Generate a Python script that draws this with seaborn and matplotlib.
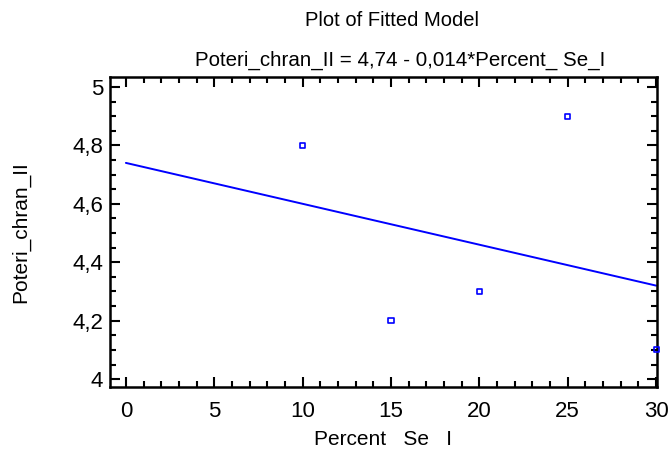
import numpy as np
import pandas as pd
import matplotlib
matplotlib.use("Agg")
import matplotlib.pyplot as plt
import seaborn as sns
from matplotlib.ticker import MultipleLocator, FuncFormatter

percent_se = [10, 15, 20, 25, 30]
poteri = [4.8, 4.2, 4.3, 4.9, 4.1]
title1 = "Plot of Fitted Model"
title2 = "Poteri_chran_II = 4,74 - 0,014*Percent_ Se_I"

sns.set_style("white")
plt.rcParams['font.family'] = ['Liberation Sans Narrow', 'Liberation Sans', 'DejaVu Sans']
plt.rcParams.update({'text.color': 'black', 'axes.labelcolor': 'black',
                     'xtick.color': 'black', 'ytick.color': 'black'})

df = pd.DataFrame({"x": percent_se, "y": poteri})
slope, intercept = np.polyfit(df["x"], df["y"], 1)
xs = np.linspace(0, 30, 200)
fit = pd.DataFrame({"x": xs, "y": intercept + slope * xs})

fig = plt.figure(figsize=(6.69, 4.57), dpi=100)
ax = fig.add_axes([110/669, 1-387/457, (657-110)/669, (387-77)/457])

sns.lineplot(data=fit, x="x", y="y", ax=ax, color="#0000ff", lw=1.4)
sns.scatterplot(data=df, x="x", y="y", ax=ax, marker="s", s=14,
                facecolor="none", edgecolor="#0000ff", linewidth=1.2, clip_on=False, zorder=5)

ax.set_xlim(-0.9, 30.05)
ax.set_ylim(3.973, 5.034)
ax.xaxis.set_major_locator(MultipleLocator(5))
ax.xaxis.set_minor_locator(MultipleLocator(1))
ax.yaxis.set_major_locator(MultipleLocator(0.2))
ax.yaxis.set_minor_locator(MultipleLocator(0.05))
ax.yaxis.set_major_formatter(FuncFormatter(lambda v, p: (f"{v:.1f}".rstrip('0').rstrip('.')).replace('.', ',')))
ax.tick_params(which='both', direction='in', top=True, right=True, bottom=True, left=True,
               width=1.5, color='black', labelcolor='black', labelsize=16)
ax.tick_params(which='major', length=7)
ax.tick_params(which='minor', length=4)
ax.tick_params(axis='x', pad=10)
ax.tick_params(axis='y', pad=5)
for s in ax.spines.values():
    s.set_color('black')
    s.set_linewidth(1.8)

ax.set_xlabel("Percent   Se   I", fontsize=15, labelpad=6, color='black')
ax.set_ylabel("Poteri_chran_II", fontsize=15, labelpad=30, color='black')
fig.text(392/669, 1-20/457, title1, ha='center', va='center', fontsize=14.5, color='black')
fig.text(400/669, 1-60/457, title2, ha='center', va='center', fontsize=14.8, color='black')

fig.savefig("out.png", dpi=100)
